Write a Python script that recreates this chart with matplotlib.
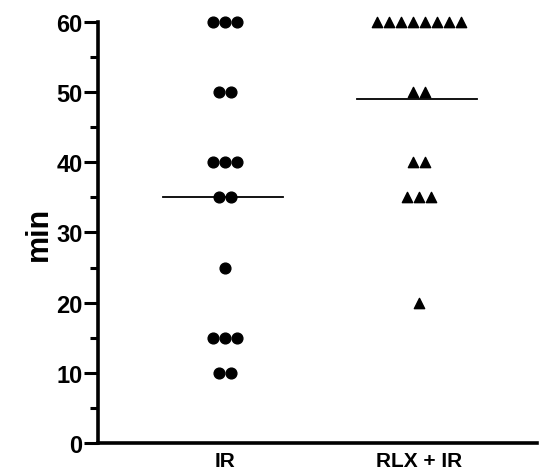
import numpy as np
import matplotlib
matplotlib.use("Agg")
import matplotlib.pyplot as plt

plt.rcParams['font.family'] = ['Liberation Sans', 'DejaVu Sans']
plt.rcParams['font.weight'] = 'bold'

groups = ['IR', 'RLX + IR']
ir_values = [60, 60, 60, 50, 50, 40, 40, 40, 35, 35, 25, 15, 15, 15, 10, 10]
rlx_values = [60, 60, 60, 60, 60, 60, 60, 60, 50, 50, 40, 40, 35, 35, 35, 20]
medians = [35, 49]
markers = ['o', '^']


def row_offsets(values, step):
    # spread equal values side by side, centred on the column
    xs = np.zeros(len(values))
    vals = np.array(values)
    for v in np.unique(vals):
        idx = np.where(vals == v)[0]
        n = len(idx)
        xs[idx] = (np.arange(n) - (n - 1) / 2) * step
    return xs


fig = plt.figure(figsize=(5.4, 4.77), dpi=100)
ax = fig.add_axes([0.1815, 0.0692, 0.8129, 0.8826])

for i, (vals, mk) in enumerate(zip([ir_values, rlx_values], markers)):
    x = i + 1 + row_offsets(vals, 0.062)
    if mk == 'o':
        ax.scatter(x, vals, s=60, marker=mk, color='black', zorder=3, clip_on=False)
    else:
        ax.scatter(x, vals, s=55, marker=mk, color='black', zorder=3, clip_on=False)
    ax.plot([i + 1 - 0.32, i + 1 + 0.30], [medians[i], medians[i]], color='black', lw=1.3)

ax.set_xlim(0.345, 2.608)
ax.set_ylim(0, 60)
ax.set_yticks(np.arange(0, 61, 10))
ax.set_yticks(np.arange(5, 60, 10), minor=True)
ax.set_xticks([1, 2])
ax.set_xticklabels(groups, fontsize=15, fontweight='bold')
ax.tick_params(axis='x', length=0, pad=6)
ax.tick_params(axis='y', which='major', length=10, width=2.2, labelsize=17, pad=1)
ax.tick_params(axis='y', which='minor', length=6, width=2.2)
for lbl in ax.get_yticklabels():
    lbl.set_fontweight('bold')

ax.spines['top'].set_visible(False)
ax.spines['right'].set_visible(False)
ax.spines['left'].set_linewidth(2.6)
ax.spines['bottom'].set_linewidth(2.6)
ax.set_ylabel('min', fontsize=22, fontweight='bold', labelpad=2)

fig.savefig('out.png', dpi=100)
